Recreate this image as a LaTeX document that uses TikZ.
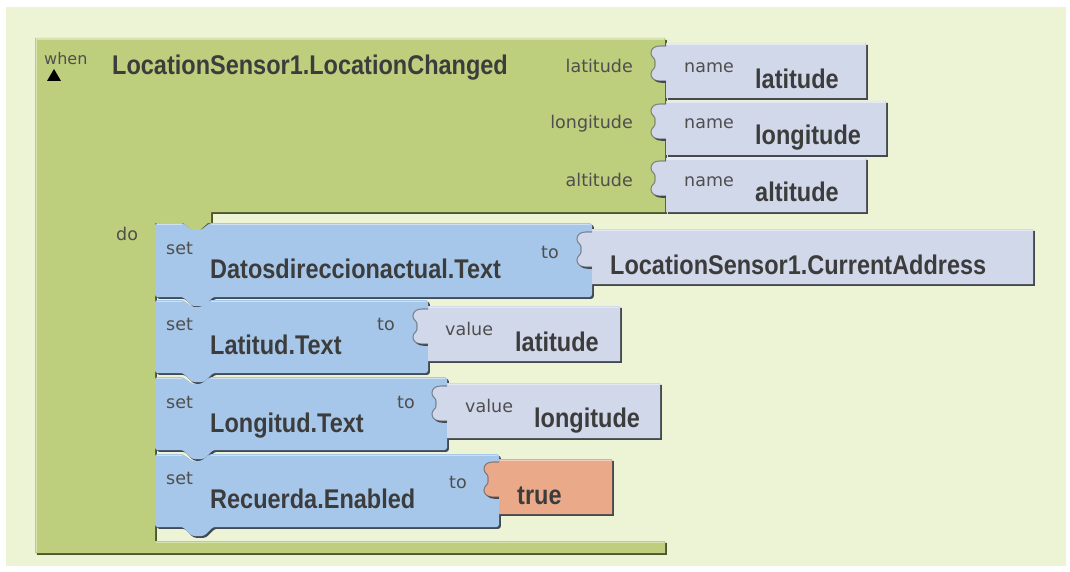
\documentclass[tikz,border=0pt]{standalone}
\usepackage{fontspec}
\setmainfont{Liberation Sans}
\newfontfamily\lblfont{DejaVu Sans}
\usepackage{graphicx}
\definecolor{bgc}{HTML}{EDF4D6}
\definecolor{greenc}{HTML}{BDCF7D}
\definecolor{greendk}{HTML}{4A5530}
\definecolor{bluec}{HTML}{A6C7E9}
\definecolor{bluedk}{HTML}{3E4A58}
\definecolor{lavc}{HTML}{D0D8EA}
\definecolor{salc}{HTML}{EAAA8A}
\definecolor{shadowc}{HTML}{45484F}
\definecolor{boldtxt}{HTML}{3C3C3C}
\definecolor{smalltxt}{HTML}{4E4E4E}
\newcommand{\vs}[1]{\scalebox{1}[1.15]{#1}}
% tab curve: x1 y1 (left edge, block top)
\newcommand{\tabc}[2]{(#1,#2+38) -- (#1-6,#2+38)
  .. controls (#1-12,#2+38) and (#1-15,#2+35) .. (#1-15,#2+31)
  .. controls (#1-15,#2+27) and (#1-11,#2+26) .. (#1-11,#2+23) -- (#1-11,#2+18)
  .. controls (#1-11,#2+15) and (#1-15,#2+14) .. (#1-15,#2+10)
  .. controls (#1-15,#2+6) and (#1-12,#2+3) .. (#1-6,#2+3) -- (#1,#2+3)}
% value block path: x1 y1 x2 y2
\newcommand{\valp}[4]{(#1,#2) -- (#3,#2) -- (#3,#4) -- (#1,#4) -- \tabc{#1}{#2} -- cycle}
\newcommand{\valblk}[5]{%
  \fill[shadowc,shift={(1.8,1.8)}] \valp{#1}{#2}{#3}{#4};
  \fill[#5] \valp{#1}{#2}{#3}{#4};
  \draw[shadowc,opacity=0.55,line width=1.1] \tabc{#1}{#2};
  \draw[white,opacity=0.45,line width=1.4] (#1+1,#2+1.2) -- (#3-1.5,#2+1.2);}
% statement block path
\newcommand{\stp}[4]{[rounded corners=2.5] (#1,#2) -- (#1+28,#2) -- (#1+37,#2+7) -- (#1+46,#2+7) -- (#1+55,#2) -- (#3,#2) -- (#3,#4) -- (#1+58,#4) -- (#1+49,#4+9) -- (#1+37,#4+9) -- (#1+28,#4) -- (#1,#4) -- cycle}
\newcommand{\stblk}[4]{%
  \fill[bluedk,shift={(1.8,1.8)}] \stp{#1}{#2}{#3}{#4};
  \fill[bluec] \stp{#1}{#2}{#3}{#4};
  \draw[white,opacity=0.45,line width=1.4] (#1+2,#2+1.2) -- (#1+27,#2+1.2) (#1+56,#2+1.2) -- (#3-2,#2+1.2);}
\tikzset{
  bt/.style={anchor=base west, inner sep=0pt, text=boldtxt, font=\fontsize{23.5}{24}\selectfont\bfseries},
  sl/.style={anchor=base west, inner sep=0pt, text=smalltxt, font=\lblfont\fontsize{17.5}{18}\selectfont},
  sr/.style={sl, anchor=base east},
}
\begin{document}
\begin{tikzpicture}[x=1pt,y=-1pt]
\useasboundingbox (0,0) rectangle (1070,572);
\fill[white] (0,0) rectangle (1070,572);
\fill[bgc] (6,7) rectangle (1066,566);
% event block
\newcommand{\grp}{(35,38) -- (665,38) -- (665,212) -- (211,212) -- (211,223) -- (208,223) -- (200,230) -- (192,230) -- (183,223) -- (155,223) -- (155,541) -- (665,541) -- (665,553) -- (35,553) -- cycle}
\fill[greendk,shift={(1.8,1.8)}] \grp;
\fill[greenc] \grp;
\draw[white,opacity=0.4,line width=1.4] (36,39.2) -- (664,39.2) (36.2,39) -- (36.2,552) (156,542.2) -- (664,542.2);
% name blocks
\valblk{666}{43}{866}{98}{lavc}
\valblk{666}{101}{886}{155}{lavc}
\valblk{666}{158}{866}{212}{lavc}
% statement blocks
\stblk{155}{223}{592}{297}
\stblk{155}{300}{428}{373}
\stblk{155}{377}{447}{450}
\stblk{155}{454}{499}{527}
% value blocks
\valblk{592}{229}{1033}{284}{lavc}
\valblk{428}{306}{620}{361}{lavc}
\valblk{447}{383}{660}{438}{lavc}
\valblk{499}{459}{612}{514}{salc}
% triangle
\fill[black] (47,81) -- (54,69) -- (61,81) -- cycle;
% texts
\node[sl, font=\lblfont\fontsize{16}{17}\selectfont] (when) at (44,65) {when};
\node[bt] (evt) at (112,75) {\vs{LocationSensor1.LocationChanged}};
\node[sr] (plat) at (633,73) {latitude};
\node[sr] (plon) at (633,129) {longitude};
\node[sr] (palt) at (633,186) {altitude};
\node[sl] (n1) at (684,73) {name};
\node[sl] (n2) at (684,129) {name};
\node[sl] (n3) at (684,186) {name};
\node[bt] (v1) at (755,89) {\vs{latitude}};
\node[bt] (v2) at (755,145) {\vs{longitude}};
\node[bt] (v3) at (755,201) {\vs{altitude}};
\node[sl] (do) at (116,240) {do};
\node[sl] (s1) at (166,254) {set};
\node[bt] (b1) at (210,278) {\vs{Datosdireccionactual.Text}};
\node[sl] (t1) at (541,258) {to};
\node[bt] (c1) at (610,274) {\vs{LocationSensor1.CurrentAddress}};
\node[sl] (s2) at (166,330) {set};
\node[bt] (b2) at (210,354) {\vs{Latitud.Text}};
\node[sl] (t2) at (377,330) {to};
\node[sl] (w2) at (445,335) {value};
\node[bt] (c2) at (515,351) {\vs{latitude}};
\node[sl] (s3) at (166,408) {set};
\node[bt] (b3) at (210,432) {\vs{Longitud.Text}};
\node[sl] (t3) at (397,408) {to};
\node[sl] (w3) at (465,412) {value};
\node[bt] (c3) at (534,427) {\vs{longitude}};
\node[sl] (s4) at (166,484) {set};
\node[bt] (b4) at (210,508) {\vs{Recuerda.Enabled}};
\node[sl] (t4) at (449,488) {to};
\node[bt] (c4) at (517,504) {\vs{true}};
\end{tikzpicture}
\end{document}
